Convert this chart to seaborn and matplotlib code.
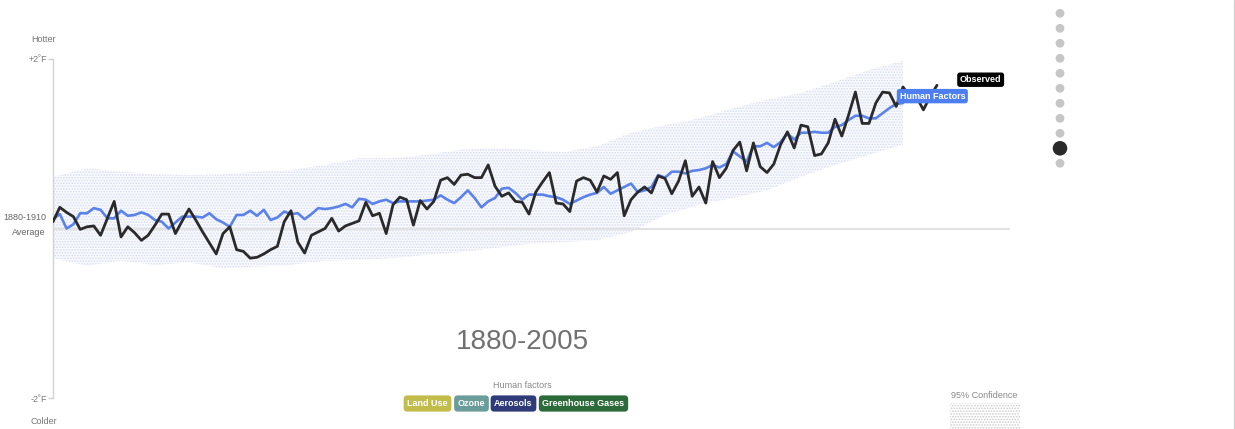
import numpy as np
import pandas as pd
import seaborn as sns
import matplotlib.pyplot as plt
from matplotlib import transforms

# ---- data (degrees F relative to 1880-1910 average) ----
obs_years = list(range(1880, 2011))
observed = [
    0.08, 0.25, 0.19, 0.14, -0.01, 0.02, 0.03, -0.08, 0.12, 0.32,
    -0.10, 0.02, -0.05, -0.14, -0.08, 0.04, 0.17, 0.17, -0.06, 0.09,
    0.23, 0.10, -0.04, -0.17, -0.30, -0.06, 0.02, -0.25, -0.27, -0.35,
    -0.34, -0.30, -0.25, -0.21, 0.08, 0.21, -0.16, -0.29, -0.08, -0.04,
    0.00, 0.12, -0.03, 0.03, 0.06, 0.09, 0.31, 0.15, 0.18, -0.06,
    0.28, 0.37, 0.34, 0.04, 0.33, 0.23, 0.32, 0.57, 0.60, 0.52,
    0.63, 0.64, 0.60, 0.60, 0.75, 0.50, 0.38, 0.42, 0.32, 0.31,
    0.17, 0.43, 0.55, 0.66, 0.30, 0.29, 0.20, 0.56, 0.60, 0.57,
    0.43, 0.62, 0.58, 0.66, 0.15, 0.34, 0.43, 0.49, 0.42, 0.62,
    0.59, 0.41, 0.56, 0.80, 0.38, 0.49, 0.30, 0.79, 0.60, 0.71,
    0.92, 1.02, 0.68, 1.01, 0.73, 0.66, 0.76, 0.99, 1.14, 0.95,
    1.22, 1.20, 0.86, 0.88, 1.01, 1.29, 1.09, 1.34, 1.61, 1.24,
    1.24, 1.48, 1.61, 1.60, 1.44, 1.67, 1.56, 1.55, 1.40, 1.56,
    1.69,
]

model_years = list(range(1880, 2006))
human_factors = [
    0.11, 0.17, 0.00, 0.05, 0.18, 0.18, 0.24, 0.22, 0.12, 0.12,
    0.21, 0.15, 0.16, 0.19, 0.16, 0.10, 0.08, 0.00, 0.07, 0.14,
    0.14, 0.14, 0.13, 0.18, 0.11, 0.07, 0.02, 0.16, 0.16, 0.21,
    0.15, 0.22, 0.10, 0.13, 0.20, 0.17, 0.18, 0.11, 0.17, 0.24,
    0.23, 0.24, 0.26, 0.29, 0.25, 0.35, 0.34, 0.29, 0.32, 0.34,
    0.30, 0.32, 0.32, 0.32, 0.32, 0.33, 0.34, 0.39, 0.34, 0.30,
    0.37, 0.45, 0.36, 0.25, 0.32, 0.36, 0.47, 0.48, 0.42, 0.34,
    0.40, 0.40, 0.40, 0.38, 0.37, 0.34, 0.29, 0.33, 0.37, 0.40,
    0.42, 0.49, 0.41, 0.45, 0.49, 0.53, 0.43, 0.45, 0.49, 0.63,
    0.60, 0.67, 0.67, 0.65, 0.68, 0.69, 0.71, 0.75, 0.72, 0.76,
    0.91, 0.85, 0.79, 0.97, 0.97, 1.01, 0.96, 1.02, 1.12, 1.05,
    1.13, 1.13, 1.14, 1.13, 1.13, 1.20, 1.22, 1.28, 1.33, 1.33,
    1.30, 1.30, 1.36, 1.42, 1.47, 1.48,
]

band_years = list(range(1880, 2006, 5))
band_upper = [0.61, 0.71, 0.67, 0.64, 0.63, 0.64, 0.67, 0.69, 0.75, 0.83, 0.83, 0.87, 0.93,
              0.95, 0.93, 0.90, 0.97, 1.13, 1.22, 1.30, 1.42, 1.52, 1.60, 1.73, 1.87, 1.98]
band_lower = [-0.35, -0.44, -0.38, -0.43, -0.40, -0.47, -0.45, -0.43, -0.38, -0.37, -0.35, -0.31, -0.28,
              -0.23, -0.18, -0.16, -0.14, -0.04, 0.16, 0.28, 0.36, 0.45, 0.61, 0.75, 0.87, 0.99]

factor_names = ["Land Use", "Ozone", "Aerosols", "Greenhouse Gases"]
factor_colors = ["#c2bd4b", "#6a9d9a", "#2f3a78", "#2c6a39"]
factor_x = [427.5, 471.5, 513.5, 583.5]

n_steps = 11
active_step = 9

df_obs = pd.DataFrame({"year": obs_years, "temp": observed})
df_model = pd.DataFrame({"year": model_years, "temp": human_factors})

sns.set_theme(style="white")
plt.rcParams["font.family"] = ["Liberation Sans", "DejaVu Sans"]
plt.rcParams["hatch.linewidth"] = 0.8

W, H = 1235, 429
fig = plt.figure(figsize=(W / 100, H / 100), dpi=100)
fig.patch.set_facecolor("white")


def fx(px):
    return px / W


def fy(py):
    return 1 - py / H


ax = fig.add_axes([fx(53), fy(398), fx(1010) - fx(53), fy(59) - fy(398)])
ax.set_facecolor("none")
ax.set_xlim(1880, 1880 + 957 / 6.8)
ax.set_ylim(-2, 2)

# 95% confidence band, dotted
ax.fill_between(band_years, band_lower, band_upper, facecolor="#f9fafd",
                edgecolor="#d6ddf1", hatch="......", linewidth=0, zorder=1)

# baseline
ax.axhline(0, color="#e2e2e2", lw=1.5, zorder=2)

sns.lineplot(data=df_model, x="year", y="temp", ax=ax, color="#5a82ea", linewidth=1.9, zorder=3)
sns.lineplot(data=df_obs, x="year", y="temp", ax=ax, color="#2a2a2a", linewidth=2.0, zorder=4)

# axis styling
for s in ["top", "right", "bottom"]:
    ax.spines[s].set_visible(False)
ax.spines["left"].set_color("#d2d2d2")
ax.spines["left"].set_linewidth(1)
ax.set_xticks([])
ax.set_yticks([-2, 2])
ax.set_yticklabels(["-2˚F", "+2˚F"])
ax.tick_params(axis="y", length=3.5, width=1, color="#d2d2d2", labelcolor="#777777",
               labelsize=6.5, pad=1, left=True)
ax.set_xlabel("")
ax.set_ylabel("")

blend = transforms.blended_transform_factory(ax.transAxes, ax.transData)
ax.text(-0.0065, 0.124, "1880-1910", transform=blend, ha="right", va="center",
        fontsize=6.5, color="#666666")
ax.text(-0.0075, -0.053, "Average", transform=blend, ha="right", va="center",
        fontsize=6.5, color="#666666")

fig.text(fx(44), fy(39), "Hotter", ha="center", va="center", fontsize=6.5, color="#777777")
fig.text(fx(44), fy(421), "Colder", ha="center", va="center", fontsize=6.5, color="#777777")

# line-end labels
ax.annotate("Human Factors", xy=(model_years[-1], human_factors[-1]), xytext=(-2.5, 5),
            textcoords="offset points", ha="left", va="center", fontsize=6.5,
            fontweight="bold", color="white", zorder=6,
            bbox=dict(boxstyle="round,pad=0.3", fc="#4d7ff0", ec="none"))
ax.annotate("Observed", xy=(obs_years[-1], observed[-1]), xytext=(16.5, 4),
            textcoords="offset points", ha="left", va="center", fontsize=6.5,
            fontweight="bold", color="white", zorder=6,
            bbox=dict(boxstyle="round,pad=0.3", fc="#000000", ec="none"))

# period title
fig.text(fx(522), fy(342), "1880-2005", ha="center", va="center", fontsize=20,
         color="#707070")

# human factors buttons
fig.text(fx(522), fy(385), "Human factors", ha="center", va="center", fontsize=6.5,
         color="#888888")
for name, col, x in zip(factor_names, factor_colors, factor_x):
    fig.text(fx(x), fy(403.5), name, ha="center", va="center", fontsize=6.5,
             fontweight="bold", color="white",
             bbox=dict(boxstyle="round,pad=0.4", fc=col, ec="none"))

# overlay for page decorations (pixel coordinates)
deco = fig.add_axes([0, 0, 1, 1], zorder=-1)
deco.set_xlim(0, W)
deco.set_ylim(H, 0)
deco.axis("off")

# step navigation dots
for i in range(n_steps):
    big = i == active_step
    deco.scatter([1060], [13.3 + 15 * i], s=110 if big else 40,
                 color="#2a2a2a" if big else "#c6c6c6", edgecolor="none")

# 95% confidence legend
fig.text(fx(984), fy(395), "95% Confidence", ha="center", va="center", fontsize=6.5,
         color="#888888")
deco.fill_between([950, 1020], [403, 403], [429, 429], facecolor="white",
                  edgecolor="#cccccc", hatch="......", linewidth=0)

deco.axvline(1233.5, color="#d4d4d4", lw=1)

fig.savefig("out.png", dpi=100)
